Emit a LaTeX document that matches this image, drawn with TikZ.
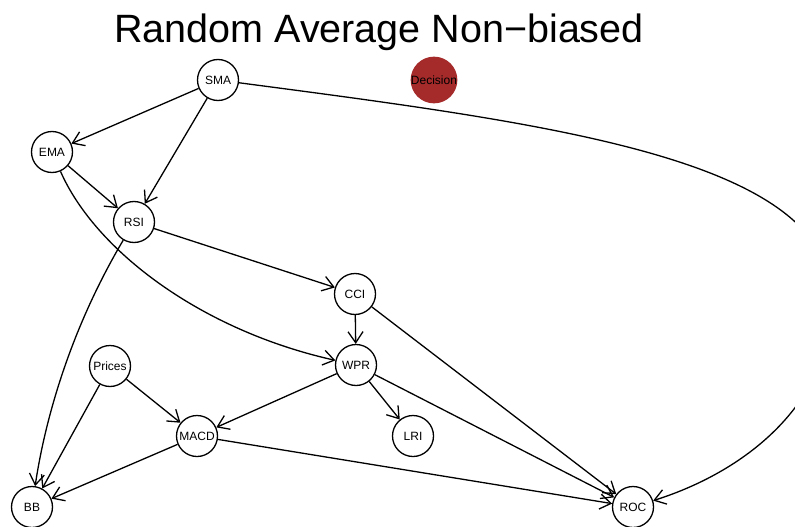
\documentclass[tikz,border=0pt]{standalone}
\usepackage{fontspec}
\setmainfont{Liberation Sans}
\usetikzlibrary{arrows.meta}
\definecolor{decred}{HTML}{A52A2A}
\begin{document}
\begin{tikzpicture}[x=1pt,y=-1pt,
  vnode/.style={circle,draw=black,line width=1.3pt,minimum size=41pt,inner sep=0pt,font=\fontsize{12}{12}\selectfont},
  dnode/.style={circle,fill=decred,minimum size=42pt,inner sep=0pt,font=\fontsize{12}{12}\selectfont},
  edge/.style={line width=1.3pt,-{Straight Barb[length=11pt,width=15pt,line width=1.3pt]}}]
\useasboundingbox (0,0) rectangle (795,527);
\clip (0,0) rectangle (795,527);
\node[font=\fontsize{39.5}{40}\selectfont,anchor=base] (title) at (379,43) {Random Average Non−biased};
\node[vnode] (SMA) at (218,80) {SMA};
\node[dnode] (Decision) at (434,80) {Decision};
\node[vnode] (EMA) at (52,152) {EMA};
\node[vnode] (RSI) at (134,222) {RSI};
\node[vnode] (CCI) at (355,294) {CCI};
\node[vnode] (Prices) at (110,366) {Prices};
\node[vnode] (WPR) at (356,365) {WPR};
\node[vnode] (MACD) at (197,436) {MACD};
\node[vnode] (LRI) at (413,436) {LRI};
\node[vnode] (BB) at (32,507) {BB};
\node[vnode] (ROC) at (633,507) {ROC};
\coordinate (far) at (832,300);
\draw[edge] (SMA) -- (EMA);
\draw[edge] (SMA) -- (RSI);
\draw[line width=1.3pt] (SMA) .. controls (560,125) and (832,160) .. (far);
\draw[edge] (far) .. controls (832,400) and (750,470) .. (ROC);
\draw[edge] (EMA) -- (RSI);
\draw[edge] (EMA) .. controls (95,250) and (200,330) .. (WPR);
\draw[edge] (RSI) -- (CCI);
\draw[edge] (RSI) .. controls (70,330) and (45,420) .. (BB);
\draw[edge] (CCI) -- (WPR);
\draw[edge] (CCI) -- (ROC);
\draw[edge] (Prices) -- (BB);
\draw[edge] (Prices) -- (MACD);
\draw[edge] (WPR) -- (MACD);
\draw[edge] (WPR) -- (LRI);
\draw[edge] (WPR) -- (ROC);
\draw[edge] (MACD) -- (BB);
\draw[edge] (MACD) -- (ROC);
\end{tikzpicture}
\end{document}
